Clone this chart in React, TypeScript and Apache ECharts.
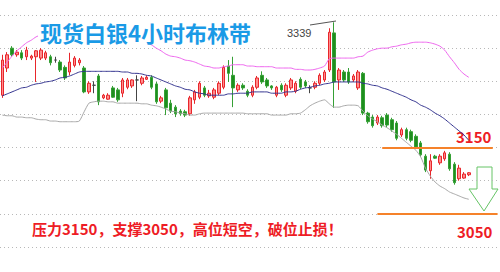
import React, { useEffect, useRef } from 'react';
import * as echarts from 'echarts';

// [open, close, low, high]
const ohlc: number[][] = [
  [3229, 3282, 3225, 3290], [3270, 3290, 3264, 3294], [3300, 3290, 3287, 3303], [3290, 3294, 3287, 3297],
  [3293, 3285, 3282, 3297], [3287, 3297, 3282, 3302], [3285, 3288, 3282, 3290], [3287, 3296, 3249, 3297],
  [3285, 3297, 3282, 3300], [3285, 3293, 3282, 3296], [3287, 3278, 3274, 3290], [3282, 3282, 3278, 3287],
  [3279, 3267, 3264, 3282], [3271, 3255, 3252, 3274], [3264, 3279, 3259, 3293], [3274, 3285, 3271, 3288],
  [3278, 3282, 3274, 3285], [3270, 3234, 3232, 3273], [3234, 3247, 3231, 3250], [3244, 3244, 3232, 3250],
  [3258, 3219, 3214, 3261], [3225, 3229, 3223, 3231], [3223, 3229, 3222, 3232], [3240, 3226, 3225, 3243],
  [3237, 3222, 3219, 3240], [3232, 3252, 3226, 3255], [3241, 3252, 3238, 3255], [3243, 3252, 3240, 3253],
  [3252, 3252, 3220, 3259], [3247, 3255, 3244, 3258], [3253, 3256, 3252, 3259], [3256, 3241, 3238, 3259],
  [3246, 3219, 3216, 3249], [3220, 3225, 3217, 3228], [3237, 3210, 3199, 3240], [3217, 3205, 3202, 3222],
  [3211, 3201, 3196, 3214], [3205, 3201, 3198, 3208], [3204, 3199, 3196, 3207], [3201, 3225, 3198, 3228],
  [3222, 3234, 3216, 3237], [3226, 3247, 3223, 3250], [3240, 3229, 3226, 3243], [3228, 3232, 3225, 3237],
  [3226, 3237, 3223, 3240], [3232, 3247, 3229, 3250], [3241, 3271, 3238, 3274], [3273, 3262, 3249, 3282],
  [3259, 3240, 3211, 3287], [3237, 3244, 3234, 3247], [3244, 3240, 3237, 3247], [3235, 3229, 3226, 3238],
  [3229, 3241, 3226, 3244], [3241, 3255, 3238, 3258], [3259, 3249, 3246, 3265], [3252, 3243, 3240, 3255],
  [3243, 3240, 3237, 3244], [3229, 3241, 3226, 3243], [3244, 3237, 3234, 3247], [3229, 3244, 3226, 3247],
  [3240, 3252, 3237, 3255], [3235, 3247, 3232, 3250], [3253, 3241, 3238, 3256], [3249, 3243, 3240, 3252],
  [3240, 3240, 3232, 3244], [3241, 3247, 3238, 3250], [3247, 3259, 3244, 3262], [3252, 3264, 3249, 3267],
  [3267, 3324, 3264, 3330], [3323, 3249, 3210, 3339], [3252, 3267, 3237, 3270], [3264, 3252, 3249, 3267],
  [3264, 3249, 3246, 3270], [3252, 3258, 3249, 3261], [3240, 3264, 3237, 3267], [3262, 3202, 3199, 3264],
  [3202, 3189, 3186, 3204], [3196, 3183, 3180, 3199], [3187, 3196, 3184, 3199], [3195, 3183, 3180, 3198],
  [3199, 3184, 3181, 3202], [3192, 3177, 3174, 3195], [3187, 3164, 3161, 3190], [3169, 3177, 3166, 3180],
  [3177, 3164, 3161, 3180], [3174, 3161, 3158, 3177], [3167, 3151, 3148, 3170], [3157, 3139, 3136, 3160],
  [3137, 3116, 3113, 3140], [3115, 3130, 3103, 3140], [3137, 3134, 3133, 3139], [3127, 3137, 3124, 3140],
  [3133, 3142, 3130, 3145], [3140, 3118, 3115, 3143], [3125, 3097, 3094, 3128], [3103, 3119, 3100, 3124],
  [3104, 3110, 3103, 3113], [3109, 3112, 3107, 3113],
];

const upperBand: number[] = [
  3270, 3279, 3288, 3296, 3302, 3308, 3312, 3317, 3320, 3323,
  3326, 3327, 3329, 3330, 3330, 3332, 3332, 3332, 3332, 3332,
  3332, 3330, 3330, 3329, 3327, 3326, 3323, 3320, 3317, 3312,
  3309, 3305, 3300, 3296, 3291, 3288, 3287, 3285, 3282, 3281,
  3279, 3276, 3273, 3272, 3270, 3270, 3272, 3273, 3275, 3275,
  3275, 3273, 3273, 3272, 3272, 3272, 3272, 3270, 3270, 3270,
  3270, 3268, 3268, 3267, 3267, 3268, 3270, 3273, 3284, 3285,
  3285, 3285, 3285, 3285, 3287, 3288, 3294, 3297, 3299, 3300,
  3300, 3302, 3303, 3305, 3306, 3308, 3309, 3309, 3309, 3308,
  3306, 3303, 3297, 3287, 3278, 3268, 3261, 3256,
];

const midBand: number[] = [
  3228, 3231, 3234, 3237, 3240, 3241, 3244, 3246, 3247, 3249,
  3250, 3252, 3255, 3256, 3258, 3261, 3264, 3265, 3265, 3265,
  3265, 3265, 3265, 3265, 3265, 3264, 3264, 3262, 3262, 3261,
  3259, 3258, 3255, 3252, 3249, 3246, 3243, 3241, 3238, 3237,
  3234, 3232, 3231, 3229, 3229, 3229, 3229, 3231, 3231, 3232,
  3232, 3232, 3234, 3234, 3234, 3234, 3232, 3232, 3232, 3234,
  3234, 3235, 3238, 3240, 3241, 3243, 3244, 3246, 3247, 3249,
  3249, 3249, 3249, 3249, 3249, 3247, 3246, 3244, 3243, 3240,
  3238, 3235, 3232, 3229, 3226, 3222, 3219, 3214, 3211, 3207,
  3202, 3198, 3193, 3187, 3181, 3175, 3169, 3161,
];

const lowerBand: number[] = [
  3199, 3198, 3198, 3196, 3196, 3195, 3195, 3193, 3192, 3192,
  3190, 3190, 3189, 3189, 3189, 3189, 3190, 3204, 3217, 3219,
  3220, 3220, 3219, 3219, 3217, 3217, 3217, 3217, 3217, 3216,
  3216, 3214, 3213, 3211, 3208, 3205, 3204, 3202, 3201, 3199,
  3199, 3201, 3202, 3202, 3202, 3202, 3202, 3202, 3202, 3202,
  3202, 3201, 3201, 3201, 3201, 3201, 3199, 3199, 3199, 3199,
  3201, 3201, 3202, 3207, 3213, 3217, 3220, 3222, 3216, 3211,
  3211, 3213, 3214, 3214, 3213, 3205, 3198, 3193, 3189, 3184,
  3180, 3175, 3170, 3164, 3158, 3152, 3146, 3136, 3119, 3107,
  3098, 3092, 3088, 3083, 3080, 3077, 3074, 3072,
];

const slotCount = 104;
const categories: string[] = Array.from({ length: slotCount }, (_, i) => `K${i + 1}`);
const yMin = 3000;
const yMax = 3350;
const yInterval = 50;
const resistance = 3150;
const support = 3050;
const peakLabel = '3339';
const titleText = '现货白银4小时布林带';
const noteText = '压力3150，支撑3050，高位短空，破位止损！';

const CJK = '"Noto Sans CJK SC", "Noto Sans", sans-serif';

export default function App() {
  const ref = useRef<HTMLDivElement>(null);
  useEffect(() => {
    if (!ref.current) return;
    const chart = echarts.init(ref.current, undefined, { renderer: 'svg' });
    chart.setOption({
      animation: false,
      backgroundColor: '#fff',
      title: {
        text: titleText,
        left: 38,
        top: 20,
        padding: [1, 2],
        backgroundColor: '#fff',
        textStyle: { fontSize: 22, fontWeight: 'bold', color: '#1a9ae6', fontFamily: CJK },
      },
      grid: { left: 0, right: 0, top: 15, bottom: 25 },
      xAxis: {
        type: 'category',
        data: categories,
        boundaryGap: true,
        axisLine: { show: false },
        axisTick: { show: false },
        axisLabel: { show: false },
        splitLine: { show: false },
      },
      yAxis: {
        type: 'value',
        min: yMin,
        max: yMax,
        interval: yInterval,
        axisLine: { show: false },
        axisTick: { show: false },
        axisLabel: { show: false },
        splitLine: { show: true, lineStyle: { color: '#b8b8b8', type: [1, 3], width: 1 } },
      },
      series: [
        {
          type: 'line', data: upperBand, showSymbol: false, smooth: 0.2, silent: true,
          lineStyle: { color: '#ee66ee', width: 1 },
        },
        {
          type: 'line', data: midBand, showSymbol: false, smooth: 0.2, silent: true,
          lineStyle: { color: '#33338f', width: 1 },
        },
        {
          type: 'line', data: lowerBand, showSymbol: false, smooth: 0.2, silent: true,
          lineStyle: { color: '#a8a8a8', width: 1 },
        },
        {
          type: 'candlestick',
          data: ohlc,
          barWidth: 3,
          itemStyle: {
            color: '#ff8c8c',
            color0: '#1e8e1e',
            borderColor: '#e8262b',
            borderColor0: '#35a035',
            borderColorDoji: '#444',
            borderWidth: 1,
          },
          markLine: {
            silent: true,
            symbol: ['none', 'none'],
            label: { show: false },
            lineStyle: { color: '#f5822a', width: 2, type: 'solid' },
            data: [
              [{ coord: [79, resistance] }, { coord: [102, resistance] }],
              [{ coord: [78, support] }, { coord: [103, support] }],
            ],
          },
        },
      ],
      graphic: [
        {
          type: 'line', silent: true,
          shape: { x1: 310, y1: 25, x2: 336, y2: 21 },
          style: { stroke: '#555', lineWidth: 1 },
        },
        {
          type: 'text', left: 287, top: 27, silent: true,
          style: { text: peakLabel, fill: '#444', fontSize: 11, fontFamily: 'Arial, "Liberation Sans", sans-serif' },
        },
        {
          type: 'text', left: 456, top: 129, silent: true,
          style: { text: String(resistance), fill: '#ee1c25', fontSize: 15, fontWeight: 'bold', fontFamily: CJK },
        },
        {
          type: 'text', left: 457, top: 224, silent: true,
          style: { text: String(support), fill: '#ee1c25', fontSize: 15, fontWeight: 'bold', fontFamily: CJK },
        },
        {
          type: 'text', left: 32, top: 221, silent: true,
          style: { text: noteText, fill: '#ee1c25', fontSize: 15, fontWeight: 'bold', fontFamily: CJK },
        },
        {
          type: 'polygon', silent: true,
          shape: { points: [[477, 167], [492, 167], [492, 189], [498, 189], [484, 211], [469, 189], [477, 189]] },
          style: { fill: '#fff', stroke: '#66c466', lineWidth: 1 },
        },
      ],
    });
    return () => chart.dispose();
  }, []);
  return <div ref={ref} style={{ position: 'fixed', left: 0, top: 0, width: 500, height: 272 }} />;
}
